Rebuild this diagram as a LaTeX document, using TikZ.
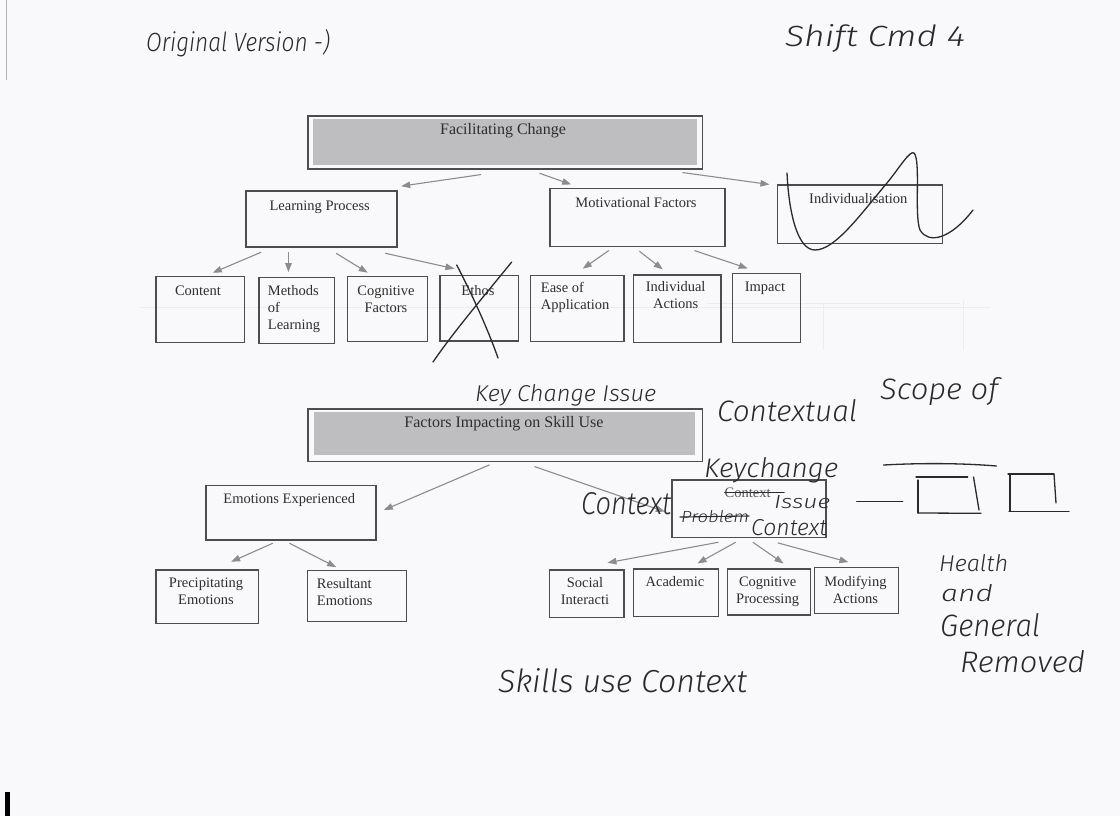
\documentclass[tikz,border=0pt]{standalone}
\usepackage{fontspec}
\setmainfont{Liberation Serif}
\newfontfamily\handfont{Fira Sans}[UprightFont={* Light Italic}]
\usetikzlibrary{arrows.meta}

\definecolor{paper}{HTML}{F9F9FB}
\definecolor{boxline}{HTML}{4D4D4D}
\definecolor{arrowgray}{HTML}{8C8C8C}
\definecolor{txt}{HTML}{2E2E2E}
\definecolor{bandgray}{HTML}{BEBEC1}
\definecolor{ink}{HTML}{2A2A2A}
\definecolor{faint}{HTML}{EDEDF0}

% box with corners (x1,y1)-(x2,y2), y measured downwards
\newcommand\bx[5]{\node[box, minimum width={(#4-#2)*1pt}, minimum height={(#5-#3)*1pt}] (#1) at ({(#2+#4)/2},{(#3+#5)/2}) {};}
% handwritten word squeezed into width x height
\newcommand\hw[3]{\resizebox{#1pt}{#2pt}{\handfont #3}}

\begin{document}
\begin{tikzpicture}[x=1pt,y=-1pt,
  box/.style={draw=boxline, line width=1.1pt, inner sep=0pt},
  lbl/.style={text=txt, inner sep=0pt, font=\fontsize{14.5}{17}\selectfont},
  ttl/.style={text=txt, inner sep=0pt, font=\fontsize{16}{19}\selectfont},
  arr/.style={draw=arrowgray, line width=1.1pt, -{Triangle[length=9pt,width=6.5pt]}},
  hand/.style={text=ink, inner sep=0pt, anchor=base west},
  ink/.style={draw=ink, line width=1.3pt, line cap=round, line join=round},
  ghost/.style={draw=faint, line width=1pt}]
\useasboundingbox[fill=paper] (0,0) rectangle (1120,816);

% scanner traces at the page edge and show-through from the back
\draw[draw=black!30, line width=1pt] (6,0) -- (6,80);
\fill[black] (5,792) rectangle (10,816);
\draw[ghost] (140,307) -- (990,307);
\draw[ghost] (707,303) -- (960,303);
\draw[ghost] (823,303) -- (823,350);
\draw[ghost] (963,300) -- (963,350);

% ---------- Facilitating Change ----------
\bx{fc}{308}{116}{702.7}{169}
\fill[bandgray] ([shift={(6,4)}]fc.north west) rectangle ([shift={(-6,-5)}]fc.south east);
\node[ttl, anchor=base] (fcT) at (503,135) {Facilitating Change};

\bx{lp}{246}{191}{397}{247}
\node[lbl, anchor=base] (lpT) at (319.7,210) {Learning Process};
\bx{mf}{550}{188.3}{725}{246.7}
\node[lbl, anchor=base] (mfT) at (636,207.5) {Motivational Factors};
\bx{ind}{777.3}{185}{942.7}{243.3}
\node[lbl, anchor=base] (indT) at (858.3,203) {Individualisation};

\bx{content}{156}{276.7}{244.3}{342.7}
\node[lbl, anchor=base] (contentT) at (198,295.5) {Content};
\bx{methods}{259}{277.7}{334.3}{343.3}
\node[lbl, anchor=north west, align=left] (methodsT) at (267.7,285.6) {Methods\\of\\Learning};
\bx{cogf}{347.7}{276.7}{427.3}{341.7}
\node[lbl, anchor=north, align=center] (cogfT) at (386,285.6) {Cognitive\\Factors};
\bx{ethos}{440}{275.7}{518.3}{341}
\node[lbl, anchor=base] (ethosT) at (478,295) {Ethos};
\bx{ease}{530.7}{275.3}{624}{341.3}
\node[lbl, anchor=north west, align=left] (easeT) at (540.7,281.6) {Ease of\\Application};
\bx{indact}{633.3}{275}{721}{342.7}
\node[lbl, anchor=north, align=center] (indactT) at (675.7,281.6) {Individual\\Actions};
\bx{impact}{732.3}{273.3}{800.7}{342.7}
\node[lbl, anchor=base] (impactT) at (765,291.5) {Impact};

\draw[arr] ([shift={(173.7,5)}]fc.south west) -- ([shift={(155.7,-4.3)}]lp.north west);
\draw[arr] ([shift={(232,3.7)}]fc.south west) -- ([shift={(21.7,-3.3)}]mf.north west);
\draw[arr] ([shift={(375,3)}]fc.south west) -- ([shift={(-7.3,0)}]ind.north west);

\draw[arr] ([shift={(15.7,4.7)}]lp.south west) -- ([shift={(57.3,-3.4)}]content.north west);
\draw[arr] ([shift={(43,4.7)}]lp.south west) -- ([shift={(30,-5)}]methods.north west);
\draw[arr] ([shift={(90.7,5.7)}]lp.south west) -- ([shift={(20.6,-3.4)}]cogf.north west);
\draw[arr] ([shift={(139.7,5.7)}]lp.south west) -- ([shift={(15,-6.4)}]ethos.north west);

\draw[arr] ([shift={(59.3,3.3)}]mf.south west) -- ([shift={(52.6,-6)}]ease.north west);
\draw[arr] ([shift={(90,4)}]mf.south west) -- ([shift={(30,-5)}]indact.north west);
\draw[arr] ([shift={(145,3.3)}]mf.south west) -- ([shift={(16,-4.3)}]impact.north west);

% ---------- Factors Impacting on Skill Use ----------
\bx{fis}{308}{409}{702.7}{461.7}
\fill[bandgray] ([shift={(7,4)}]fis.north west) rectangle ([shift={(-8,-7.5)}]fis.south east);
\node[ttl, anchor=base] (fisT) at (504,427) {Factors Impacting on Skill Use};

\bx{emo}{206}{485.7}{376}{540}
\node[lbl, anchor=base] (emoT) at (289.3,503.7) {Emotions Experienced};
\bx{prec}{156}{570}{258.3}{623.3}
\node[lbl, anchor=north, align=center] (precT) at (206,578.1) {Precipitating\\Emotions};
\bx{res}{307.7}{570.7}{406.7}{621.7}
\node[lbl, anchor=north west, align=left] (resT) at (316.7,578.1) {Resultant\\Emotions};

\bx{ctx}{672}{480}{826}{537.3}
\node[lbl, anchor=base, text=txt!80] (ctxT) at (747.7,497.5) {Context};

\bx{social}{549.9}{570}{624}{617.3}
\node[lbl, anchor=north, align=center] (socialT) at (585,577.6) {Social\\Interacti};
\bx{acad}{633.7}{569}{718.2}{616.7}
\node[lbl, anchor=base] (acadT) at (675,586.5) {Academic};
\bx{cogp}{727.4}{569}{810.9}{615}
\node[lbl, anchor=north, align=center] (cogpT) at (767.6,576.6) {Cognitive\\Processing};
\bx{modact}{814.7}{567.3}{898.9}{613.3}
\node[lbl, anchor=north, align=center] (modactT) at (855.5,575.6) {Modifying\\Actions};

\draw[arr] ([shift={(182,2.6)}]fis.south west) -- ([shift={(7.3,-2.85)}]emo.east);
\draw[arr] ([shift={(227,4.3)}]fis.south west) -- ([shift={(-6.6,3)}]ctx.west);

\draw[arr] ([shift={(67.3,2.7)}]emo.south west) -- ([shift={(75.7,-7.7)}]prec.north west);
\draw[arr] ([shift={(84,2.7)}]emo.south west) -- ([shift={(29,-3)}]res.north west);

\draw[arr] ([shift={(47,4.4)}]ctx.south west) -- ([shift={(58.1,-6.7)}]social.north west);
\draw[arr] ([shift={(64.2,4.4)}]ctx.south west) -- ([shift={(64.3,-5)}]acad.north west);
\draw[arr] ([shift={(81.4,4.4)}]ctx.south west) -- ([shift={(56.6,-5)}]cogp.north west);
\draw[arr] ([shift={(106.3,5)}]ctx.south west) -- ([shift={(34.3,-4.6)}]modact.north west);

% ---------- pen annotations ----------
% cross over Ethos
\draw[ink] (456.7,265) .. controls (475,300) and (490,335) .. (498,358);
\draw[ink] (511.7,262) .. controls (485,295) and (455,330) .. (433,362);
% scribble over Individualisation
\draw[ink] (787,173) .. controls (789,215) and (798,250) .. (815,250)
  .. controls (835,250) and (860,215) .. (887,183)
  .. controls (900,167) and (910,150) .. (914,153)
  .. controls (921,160) and (914,215) .. (920,230)
  .. controls (928,244) and (950,240) .. (973,210);
% strike-outs inside the context box
\draw[ink, line width=1.1pt] (724.7,492.7) -- (784,492.7);
\draw[ink, line width=1.1pt] (680,517) -- (749,516);

% sketched boxes on the right
\draw[ink] (883.6,465) .. controls (920,463) and (960,463) .. (996.5,466);
\draw[ink] (856.8,501.7) -- (902.7,501.7);
\draw[ink] (916,477) -- (967.7,477);
\draw[ink] (918,480) -- (918,513);
\draw[ink] (918,513) -- (981,513.3);
\draw[ink] (973.5,477) -- (979,510);
\draw[ink] (1008,474) -- (1054,474);
\draw[ink] (1010,474) -- (1010,511);
\draw[ink] (1054,474) -- (1056,503);
\draw[ink] (1009,511.7) -- (1069,511.7);

\node[hand] (hOrig) at (146,52) {\hw{184}{22}{Original Version -)}};
\node[hand] (hShift) at (785,47) {\hw{180}{22}{Shift Cmd 4}};
\node[hand] (hKey) at (475,401) {\hw{181}{17}{Key Change Issue}};
\node[hand] (hCtxl) at (717,421) {\hw{140}{22}{Contextual}};
\node[hand] (hScope) at (880,399) {\hw{118}{22}{Scope of}};
\node[hand] (hKey2) at (704,477) {\hw{134}{20}{Keychange}};
\node[hand] (hCtxL) at (581,514) {\hw{90}{22}{Context}};
\node[hand] (hIssue) at (774,508) {\hw{56}{13}{Issue}};
\node[hand] (hProb) at (681,522) {\hw{68}{12}{Problem}};
\node[hand] (hCtxB) at (751,535) {\hw{76}{16}{Context}};
\node[hand] (hHealth) at (939,571) {\hw{69}{17}{Health}};
\node[hand] (hAnd) at (941,601) {\hw{52}{17}{and}};
\node[hand] (hGen) at (940,636) {\hw{100}{23}{General}};
\node[hand] (hRem) at (960,672) {\hw{125}{22}{Removed}};
\node[hand] (hSkills) at (498,692) {\hw{249}{24}{Skills use Context}};
\end{tikzpicture}
\end{document}
